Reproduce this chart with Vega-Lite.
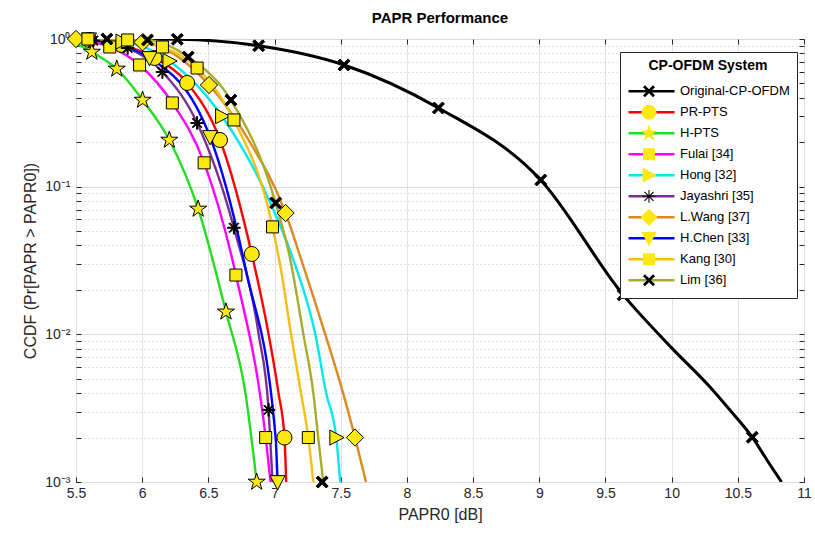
{
  "$schema": "https://vega.github.io/schema/vega-lite/v6.json",
  "width": 728,
  "height": 443,
  "autosize": {"type": "none"},
  "padding": {"left": 76, "top": 39, "right": 11, "bottom": 52},
  "background": "white",
  "title": {"text": "PAPR Performance", "fontSize": 15, "font": "Liberation Sans", "fontWeight": "bold", "color": "#000000", "offset": 2, "anchor": "middle"},
  "config": {
    "font": "Liberation Sans",
    "view": {"stroke": "#262626", "strokeWidth": 1}
  },
  "datasets": {
    "curves": [
      {"s": "Original-CP-OFDM", "x": 5.5, "y": 1.0},
      {"s": "Original-CP-OFDM", "x": 5.69, "y": 1.0},
      {"s": "Original-CP-OFDM", "x": 6.265, "y": 0.995},
      {"s": "Original-CP-OFDM", "x": 6.88, "y": 0.9},
      {"s": "Original-CP-OFDM", "x": 7.525, "y": 0.667},
      {"s": "Original-CP-OFDM", "x": 8.238, "y": 0.341},
      {"s": "Original-CP-OFDM", "x": 9.011, "y": 0.111},
      {"s": "Original-CP-OFDM", "x": 9.634, "y": 0.0185},
      {"s": "Original-CP-OFDM", "x": 10.0, "y": 0.0081},
      {"s": "Original-CP-OFDM", "x": 10.3, "y": 0.0043},
      {"s": "Original-CP-OFDM", "x": 10.45, "y": 0.003},
      {"s": "Original-CP-OFDM", "x": 10.609, "y": 0.00201},
      {"s": "Original-CP-OFDM", "x": 10.72, "y": 0.00141},
      {"s": "Original-CP-OFDM", "x": 10.83, "y": 0.001},

      {"s": "PR-PTS", "x": 5.5, "y": 0.995},
      {"s": "PR-PTS", "x": 5.6, "y": 0.985},
      {"s": "PR-PTS", "x": 5.845, "y": 0.911},
      {"s": "PR-PTS", "x": 6.093, "y": 0.744},
      {"s": "PR-PTS", "x": 6.34, "y": 0.504},
      {"s": "PR-PTS", "x": 6.588, "y": 0.207},
      {"s": "PR-PTS", "x": 6.828, "y": 0.035},
      {"s": "PR-PTS", "x": 6.955, "y": 0.01},
      {"s": "PR-PTS", "x": 7.03, "y": 0.004},
      {"s": "PR-PTS", "x": 7.075, "y": 0.002},
      {"s": "PR-PTS", "x": 7.088, "y": 0.001},

      {"s": "H-PTS", "x": 5.5, "y": 0.93},
      {"s": "H-PTS", "x": 5.62, "y": 0.816},
      {"s": "H-PTS", "x": 5.808, "y": 0.627},
      {"s": "H-PTS", "x": 6.003, "y": 0.386},
      {"s": "H-PTS", "x": 6.205, "y": 0.207},
      {"s": "H-PTS", "x": 6.423, "y": 0.0706},
      {"s": "H-PTS", "x": 6.633, "y": 0.0142},
      {"s": "H-PTS", "x": 6.78, "y": 0.004},
      {"s": "H-PTS", "x": 6.865, "y": 0.001},

      {"s": "Fulai [34]", "x": 5.5, "y": 0.99},
      {"s": "Fulai [34]", "x": 5.755, "y": 0.883},
      {"s": "Fulai [34]", "x": 5.98, "y": 0.667},
      {"s": "Fulai [34]", "x": 6.228, "y": 0.369},
      {"s": "Fulai [34]", "x": 6.468, "y": 0.145},
      {"s": "Fulai [34]", "x": 6.708, "y": 0.0252},
      {"s": "Fulai [34]", "x": 6.933, "y": 0.002},
      {"s": "Fulai [34]", "x": 6.97, "y": 0.001},

      {"s": "Hong [32]", "x": 5.5, "y": 1.0},
      {"s": "Hong [32]", "x": 5.85, "y": 0.96},
      {"s": "Hong [32]", "x": 6.205, "y": 0.71},
      {"s": "Hong [32]", "x": 6.603, "y": 0.3},
      {"s": "Hong [32]", "x": 6.97, "y": 0.077},
      {"s": "Hong [32]", "x": 7.143, "y": 0.0318},
      {"s": "Hong [32]", "x": 7.308, "y": 0.01},
      {"s": "Hong [32]", "x": 7.39, "y": 0.004},
      {"s": "Hong [32]", "x": 7.466, "y": 0.002},
      {"s": "Hong [32]", "x": 7.496, "y": 0.001},

      {"s": "Jayashri [35]", "x": 5.5, "y": 0.99},
      {"s": "Jayashri [35]", "x": 5.63, "y": 0.975},
      {"s": "Jayashri [35]", "x": 5.89, "y": 0.869},
      {"s": "Jayashri [35]", "x": 6.153, "y": 0.598},
      {"s": "Jayashri [35]", "x": 6.415, "y": 0.27},
      {"s": "Jayashri [35]", "x": 6.693, "y": 0.0527},
      {"s": "Jayashri [35]", "x": 6.88, "y": 0.01},
      {"s": "Jayashri [35]", "x": 6.955, "y": 0.00308},
      {"s": "Jayashri [35]", "x": 6.985, "y": 0.001},

      {"s": "L.Wang [37]", "x": 5.5, "y": 1.0},
      {"s": "L.Wang [37]", "x": 6.003, "y": 0.95},
      {"s": "L.Wang [37]", "x": 6.505, "y": 0.488},
      {"s": "L.Wang [37]", "x": 6.8, "y": 0.21},
      {"s": "L.Wang [37]", "x": 7.083, "y": 0.0663},
      {"s": "L.Wang [37]", "x": 7.203, "y": 0.0318},
      {"s": "L.Wang [37]", "x": 7.383, "y": 0.01},
      {"s": "L.Wang [37]", "x": 7.518, "y": 0.004},
      {"s": "L.Wang [37]", "x": 7.608, "y": 0.002},
      {"s": "L.Wang [37]", "x": 7.691, "y": 0.001},

      {"s": "H.Chen [33]", "x": 5.5, "y": 1.0},
      {"s": "H.Chen [33]", "x": 5.598, "y": 0.995},
      {"s": "H.Chen [33]", "x": 6.055, "y": 0.744},
      {"s": "H.Chen [33]", "x": 6.513, "y": 0.217},
      {"s": "H.Chen [33]", "x": 6.783, "y": 0.0273},
      {"s": "H.Chen [33]", "x": 7.008, "y": 0.002},
      {"s": "H.Chen [33]", "x": 7.023, "y": 0.001},

      {"s": "Kang [30]", "x": 5.5, "y": 1.0},
      {"s": "Kang [30]", "x": 5.59, "y": 1.0},
      {"s": "Kang [30]", "x": 5.89, "y": 0.985},
      {"s": "Kang [30]", "x": 6.153, "y": 0.883},
      {"s": "Kang [30]", "x": 6.415, "y": 0.636},
      {"s": "Kang [30]", "x": 6.693, "y": 0.283},
      {"s": "Kang [30]", "x": 6.985, "y": 0.0534},
      {"s": "Kang [30]", "x": 7.05, "y": 0.027},
      {"s": "Kang [30]", "x": 7.125, "y": 0.01},
      {"s": "Kang [30]", "x": 7.2, "y": 0.004},
      {"s": "Kang [30]", "x": 7.255, "y": 0.002},
      {"s": "Kang [30]", "x": 7.293, "y": 0.001},

      {"s": "Lim [36]", "x": 5.5, "y": 1.0},
      {"s": "Lim [36]", "x": 5.733, "y": 1.0},
      {"s": "Lim [36]", "x": 6.04, "y": 0.985},
      {"s": "Lim [36]", "x": 6.348, "y": 0.755},
      {"s": "Lim [36]", "x": 6.67, "y": 0.386},
      {"s": "Lim [36]", "x": 7.008, "y": 0.0776},
      {"s": "Lim [36]", "x": 7.12, "y": 0.0318},
      {"s": "Lim [36]", "x": 7.218, "y": 0.01},
      {"s": "Lim [36]", "x": 7.293, "y": 0.004},
      {"s": "Lim [36]", "x": 7.33, "y": 0.002},
      {"s": "Lim [36]", "x": 7.368, "y": 0.001}
    ],
    "marks": [
      {"m": "Original-CP-OFDM", "x": 6.265, "y": 0.995},
      {"m": "Original-CP-OFDM", "x": 6.88, "y": 0.9},
      {"m": "Original-CP-OFDM", "x": 7.525, "y": 0.667},
      {"m": "Original-CP-OFDM", "x": 8.238, "y": 0.341},
      {"m": "Original-CP-OFDM", "x": 9.011, "y": 0.111},
      {"m": "Original-CP-OFDM", "x": 9.634, "y": 0.0185},
      {"m": "Original-CP-OFDM", "x": 10.609, "y": 0.00201},

      {"m": "PR-PTS", "x": 5.6, "y": 0.985},
      {"m": "PR-PTS", "x": 5.845, "y": 0.911},
      {"m": "PR-PTS", "x": 6.093, "y": 0.744},
      {"m": "PR-PTS", "x": 6.34, "y": 0.504},
      {"m": "PR-PTS", "x": 6.588, "y": 0.207},
      {"m": "PR-PTS", "x": 6.828, "y": 0.035},
      {"m": "PR-PTS", "x": 7.075, "y": 0.002},

      {"m": "H-PTS", "x": 5.62, "y": 0.816},
      {"m": "H-PTS", "x": 5.808, "y": 0.627},
      {"m": "H-PTS", "x": 6.003, "y": 0.386},
      {"m": "H-PTS", "x": 6.205, "y": 0.207},
      {"m": "H-PTS", "x": 6.423, "y": 0.0706},
      {"m": "H-PTS", "x": 6.633, "y": 0.0142},
      {"m": "H-PTS", "x": 6.865, "y": 0.001},

      {"m": "Fulai [34]", "x": 5.755, "y": 0.883},
      {"m": "Fulai [34]", "x": 5.98, "y": 0.667},
      {"m": "Fulai [34]", "x": 6.228, "y": 0.369},
      {"m": "Fulai [34]", "x": 6.468, "y": 0.145},
      {"m": "Fulai [34]", "x": 6.708, "y": 0.0252},
      {"m": "Fulai [34]", "x": 6.933, "y": 0.002},

      {"m": "Hong [32]", "x": 5.85, "y": 0.96},
      {"m": "Hong [32]", "x": 6.205, "y": 0.71},
      {"m": "Hong [32]", "x": 6.603, "y": 0.3},
      {"m": "Hong [32]", "x": 7.466, "y": 0.002},

      {"m": "Jayashri [35]", "x": 5.63, "y": 0.975},
      {"m": "Jayashri [35]", "x": 5.89, "y": 0.869},
      {"m": "Jayashri [35]", "x": 6.153, "y": 0.598},
      {"m": "Jayashri [35]", "x": 6.415, "y": 0.27},
      {"m": "Jayashri [35]", "x": 6.693, "y": 0.0527},
      {"m": "Jayashri [35]", "x": 6.955, "y": 0.00308},

      {"m": "L.Wang [37]", "x": 5.5, "y": 1.0},
      {"m": "L.Wang [37]", "x": 6.003, "y": 0.95},
      {"m": "L.Wang [37]", "x": 6.505, "y": 0.488},
      {"m": "L.Wang [37]", "x": 7.083, "y": 0.0663},
      {"m": "L.Wang [37]", "x": 7.608, "y": 0.002},

      {"m": "H.Chen [33]", "x": 5.598, "y": 0.995},
      {"m": "H.Chen [33]", "x": 6.055, "y": 0.744},
      {"m": "H.Chen [33]", "x": 6.513, "y": 0.217},
      {"m": "H.Chen [33]", "x": 7.023, "y": 0.001},

      {"m": "Kang [30]", "x": 5.59, "y": 1.0},
      {"m": "Kang [30]", "x": 5.89, "y": 0.985},
      {"m": "Kang [30]", "x": 6.153, "y": 0.883},
      {"m": "Kang [30]", "x": 6.415, "y": 0.636},
      {"m": "Kang [30]", "x": 6.693, "y": 0.283},
      {"m": "Kang [30]", "x": 6.985, "y": 0.0534},
      {"m": "Kang [30]", "x": 7.255, "y": 0.002},

      {"m": "Lim [36]", "x": 5.733, "y": 1.0},
      {"m": "Lim [36]", "x": 6.04, "y": 0.985},
      {"m": "Lim [36]", "x": 6.348, "y": 0.755},
      {"m": "Lim [36]", "x": 6.67, "y": 0.386},
      {"m": "Lim [36]", "x": 7.008, "y": 0.0776},
      {"m": "Lim [36]", "x": 7.36, "y": 0.001}
    ]
  },
  "layer": [
    {
      "data": {"name": "curves"},
      "mark": {"type": "line", "interpolate": "monotone", "clip": true},
      "encoding": {
        "x": {
          "field": "x", "type": "quantitative",
          "scale": {"domain": [5.5, 11], "nice": false, "zero": false},
          "axis": {
            "orient": "bottom",
            "title": "PAPR0 [dB]",
            "values": [5.5, 6, 6.5, 7, 7.5, 8, 8.5, 9, 9.5, 10, 10.5, 11],
            "format": "~g",
            "labelFontSize": 14, "titleFontSize": 16, "titleFontWeight": "normal",
            "labelColor": "#262626", "titleColor": "#262626",
            "grid": true, "gridColor": "#e2e2e2", "gridWidth": 1,
            "domain": false, "tickColor": "#262626", "tickSize": -5,
            "labelPadding": 9, "titlePadding": 6, "labelFlush": false
          }
        },
        "y": {
          "field": "y", "type": "quantitative",
          "scale": {"type": "log", "domain": [0.001, 1], "nice": false},
          "axis": {
            "orient": "left",
            "title": "CCDF (Pr[PAPR > PAPR0])",
            "values": [0.001, 0.002, 0.003, 0.004, 0.005, 0.006, 0.007, 0.008, 0.009, 0.01, 0.02, 0.03, 0.04, 0.05, 0.06, 0.07, 0.08, 0.09, 0.1, 0.2, 0.3, 0.4, 0.5, 0.6, 0.7, 0.8, 0.9, 1],
            "labelExpr": "datum.value == 1 ? '10⁰' : datum.value == 0.1 ? '10⁻¹' : datum.value == 0.01 ? '10⁻²' : datum.value == 0.001 ? '10⁻³' : ''",
            "labelFontSize": 14, "titleFontSize": 16, "titleFontWeight": "normal",
            "labelColor": "#262626", "titleColor": "#262626",
            "grid": true,
            "gridColor": {"condition": {"test": "datum.value == 1 || datum.value == 0.1 || datum.value == 0.01 || datum.value == 0.001", "value": "#dcdcdc"}, "value": "#c4c4c4"},
            "gridDash": {"condition": {"test": "datum.value == 1 || datum.value == 0.1 || datum.value == 0.01 || datum.value == 0.001", "value": []}, "value": [1, 3]},
            "domain": false, "tickColor": "#262626", "tickSize": -5,
            "labelPadding": 11, "titlePadding": 6, "labelFlush": false, "labelOverlap": false
          }
        },
        "color": {
          "field": "s", "type": "nominal",
          "sort": ["Original-CP-OFDM", "PR-PTS", "H-PTS", "Fulai [34]", "Hong [32]", "Jayashri [35]", "L.Wang [37]", "H.Chen [33]", "Kang [30]", "Lim [36]"],
          "scale": {
            "range": ["#000000", "#ff0000", "#22dd22", "#ff00ff", "#00e8f0", "#7e2f8e", "#dd8822", "#0000ff", "#f5be10", "#a8ac2c"]
          },
          "legend": {
            "title": "CP-OFDM System", "orient": "none", "legendX": 544, "legendY": 13,
            "symbolType": "stroke", "symbolSize": 2116, "symbolStrokeWidth": 2.5,
            "labelFontSize": 13, "labelColor": "#000000", "labelOffset": 4, "labelLimit": 200,
            "titleFontSize": 14, "titleFontWeight": "bold", "titleColor": "#000000", "titleAnchor": "middle", "titlePadding": 8,
            "padding": 7, "fillColor": "white", "strokeColor": "#262626",
            "clipHeight": 20.5, "rowPadding": 0, "symbolOffset": 0, "zindex": 1
          }
        },
        "strokeWidth": {"condition": {"test": "datum.s === 'Original-CP-OFDM'", "value": 3}, "value": 2.4}
      }
    },
    {
      "data": {"name": "marks"},
      "mark": {"type": "point", "filled": true, "stroke": "#000000", "strokeWidth": 1, "opacity": 1, "size": 225},
      "encoding": {
        "x": {
          "field": "x", "type": "quantitative",
          "axis": {"orient": "top", "labels": false, "title": null, "grid": false, "domain": false, "tickColor": "#262626", "tickSize": -5, "values": [5.5, 6, 6.5, 7, 7.5, 8, 8.5, 9, 9.5, 10, 10.5, 11]}
        },
        "y": {
          "field": "y", "type": "quantitative",
          "axis": {"orient": "right", "labels": false, "title": null, "grid": false, "domain": false, "tickColor": "#262626", "tickSize": -5, "values": [0.001, 0.002, 0.003, 0.004, 0.005, 0.006, 0.007, 0.008, 0.009, 0.01, 0.02, 0.03, 0.04, 0.05, 0.06, 0.07, 0.08, 0.09, 0.1, 0.2, 0.3, 0.4, 0.5, 0.6, 0.7, 0.8, 0.9, 1]}
        },
        "fill": {
          "field": "m", "type": "nominal",
          "scale": {
            "domain": ["Original-CP-OFDM", "PR-PTS", "H-PTS", "Fulai [34]", "Hong [32]", "Jayashri [35]", "L.Wang [37]", "H.Chen [33]", "Kang [30]", "Lim [36]"],
            "range": ["#000000", "#fde910", "#fde910", "#fde910", "#fde910", "#000000", "#fde910", "#fde910", "#fde910", "#000000"]
          },
          "legend": {
            "title": " ", "orient": "none", "legendX": 558, "legendY": 13,
            "symbolSize": 225, "symbolStrokeColor": "#000000", "symbolStrokeWidth": 1,
            "labelFontSize": 13, "labelExpr": "''", "labelOffset": 4,
            "titleFontSize": 14, "titleFontWeight": "bold", "titlePadding": 8,
            "padding": 7, "clipHeight": 20.5, "rowPadding": 0, "symbolOffset": 0, "zindex": 2
          }
        },
        "shape": {
          "field": "m", "type": "nominal",
          "scale": {
            "domain": ["Original-CP-OFDM", "PR-PTS", "H-PTS", "Fulai [34]", "Hong [32]", "Jayashri [35]", "L.Wang [37]", "H.Chen [33]", "Kang [30]", "Lim [36]"],
            "range": [
              "M0,-0.26L0.54,-0.8L0.8,-0.54L0.26,0L0.8,0.54L0.54,0.8L0,0.26L-0.54,0.8L-0.8,0.54L-0.26,0L-0.8,-0.54L-0.54,-0.8Z",
              "circle",
              "M0,-1.2L0.269,-0.371L1.141,-0.371L0.436,0.142L0.705,0.971L0,0.458L-0.705,0.971L-0.436,0.142L-1.141,-0.371L-0.269,-0.371Z",
              "M-0.8,-0.8L0.8,-0.8L0.8,0.8L-0.8,0.8Z",
              "M-0.85,-1L1.05,0L-0.85,1Z",
              "M-0.85,-0.07L0.85,-0.07L0.85,0.07L-0.85,0.07ZM-0.07,-0.85L0.07,-0.85L0.07,0.85L-0.07,0.85ZM-0.55,-0.65L0.65,0.55L0.55,0.65L-0.65,-0.55ZM0.55,-0.65L0.65,-0.55L-0.55,0.65L-0.65,0.55Z",
              "M0,-1.15L1.15,0L0,1.15L-1.15,0Z",
              "M-1,-0.85L1,-0.85L0,1.05Z",
              "M-0.8,-0.8L0.8,-0.8L0.8,0.8L-0.8,0.8Z",
              "M0,-0.26L0.54,-0.8L0.8,-0.54L0.26,0L0.8,0.54L0.54,0.8L0,0.26L-0.54,0.8L-0.8,0.54L-0.26,0L-0.8,-0.54L-0.54,-0.8Z"
            ]
          },
          "legend": {
            "title": " ", "orient": "none", "legendX": 558, "legendY": 13,
            "symbolSize": 225, "symbolStrokeColor": "#000000", "symbolStrokeWidth": 1,
            "labelFontSize": 13, "labelExpr": "''", "labelOffset": 4,
            "titleFontSize": 14, "titleFontWeight": "bold", "titlePadding": 8,
            "padding": 7, "clipHeight": 20.5, "rowPadding": 0, "symbolOffset": 0, "zindex": 2
          }
        }
      }
    }
  ]
}
